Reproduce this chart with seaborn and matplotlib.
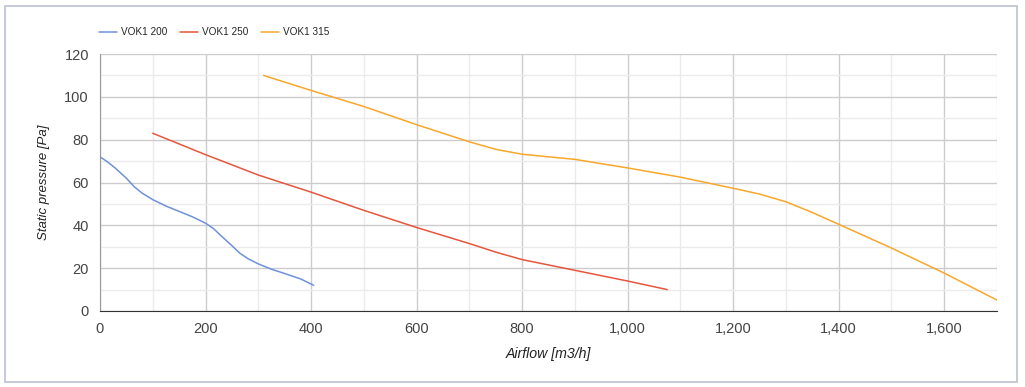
import matplotlib
matplotlib.use("Agg")
import matplotlib.pyplot as plt
import matplotlib.patches as patches
from matplotlib.ticker import MultipleLocator, FuncFormatter
import pandas as pd
import seaborn as sns

# curvas
flow_200 = [0, 15, 30, 50, 65, 80, 100, 125, 150, 175, 200, 215, 230, 250, 265, 280, 300, 325, 350, 380, 405]
press_200 = [72, 69.5, 66.5, 62, 58, 55, 52, 49, 46.5, 44, 41, 38.5, 35, 30.5, 27, 24.5, 22, 19.5, 17.5, 15, 12]

flow_250 = [100, 200, 300, 400, 500, 600, 700, 750, 800, 850, 900, 1000, 1075]
press_250 = [83, 73, 63.5, 55.5, 47, 39, 31.5, 27.5, 24, 21.5, 19, 14, 10]

flow_315 = [310, 400, 500, 600, 700, 750, 800, 850, 900, 1000, 1100, 1200, 1250, 1300, 1350, 1400, 1500, 1600, 1700]
press_315 = [110, 103, 95.5, 87, 79, 75.5, 73.2, 72, 70.8, 66.8, 62.5, 57.3, 54.6, 51, 46, 40.5, 29.4, 17.7, 5.1]

series = ["VOK1 200", "VOK1 250", "VOK1 315"]
colors = ["#6f91da", "#e6553d", "#f9a72b"]


def build_frame():
    parts = []
    for name, fx, py in zip(series, [flow_200, flow_250, flow_315],
                            [press_200, press_250, press_315]):
        parts.append(pd.DataFrame({"flow": fx, "pressure": py, "serie": name}))
    return pd.concat(parts, ignore_index=True)


def main():
    sns.set_style("white")
    plt.rcParams["font.family"] = ["Arial", "Liberation Sans", "DejaVu Sans"]

    df = build_frame()
    fig = plt.figure(figsize=(10.25, 3.87), dpi=100)
    ax = fig.add_axes([100 / 1025, 76 / 387, 897 / 1025, 257 / 387])

    sns.lineplot(data=df, x="flow", y="pressure", hue="serie", hue_order=series,
                 palette=colors, linewidth=1.1, sort=True, estimator=None, ax=ax)

    ax.set_xlim(0, 1700)
    ax.set_ylim(0, 120)
    ax.xaxis.set_major_locator(MultipleLocator(200))
    ax.xaxis.set_minor_locator(MultipleLocator(100))
    ax.yaxis.set_major_locator(MultipleLocator(20))
    ax.yaxis.set_minor_locator(MultipleLocator(10))
    ax.xaxis.set_major_formatter(FuncFormatter(lambda v, p: f"{int(v):,}"))
    ax.grid(which="major", color="#cccccc", linewidth=1)
    ax.grid(which="minor", color="#ebebeb", linewidth=1)
    ax.set_axisbelow(True)
    ax.tick_params(which="both", length=0, labelsize=10.5, colors="#444444", pad=8)

    for s in ["top", "right"]:
        ax.spines[s].set_visible(False)
    ax.spines["left"].set_color("#999999")
    ax.spines["bottom"].set_color("#333333")

    ax.set_xlabel("Airflow [m3/h]", fontstyle="italic", fontsize=10.2, color="#222222", labelpad=8)
    ax.set_ylabel("Static pressure [Pa]", fontstyle="italic", fontsize=9.5, color="#222222", labelpad=10)

    ax.legend(loc="lower left", bbox_to_anchor=(-0.006, 1.05), ncol=3, frameon=False,
              fontsize=7.2, handlelength=1.8, handletextpad=0.4, columnspacing=1.3,
              borderaxespad=0, title=None)

    # marco exterior
    fig.patches.append(patches.Rectangle((5 / 1025, 5 / 387), 1012 / 1025, 376 / 387,
                                         transform=fig.transFigure, fill=False,
                                         edgecolor="#c2c6d6", linewidth=1.3))

    fig.savefig("out.png", dpi=100)


if __name__ == "__main__":
    main()
